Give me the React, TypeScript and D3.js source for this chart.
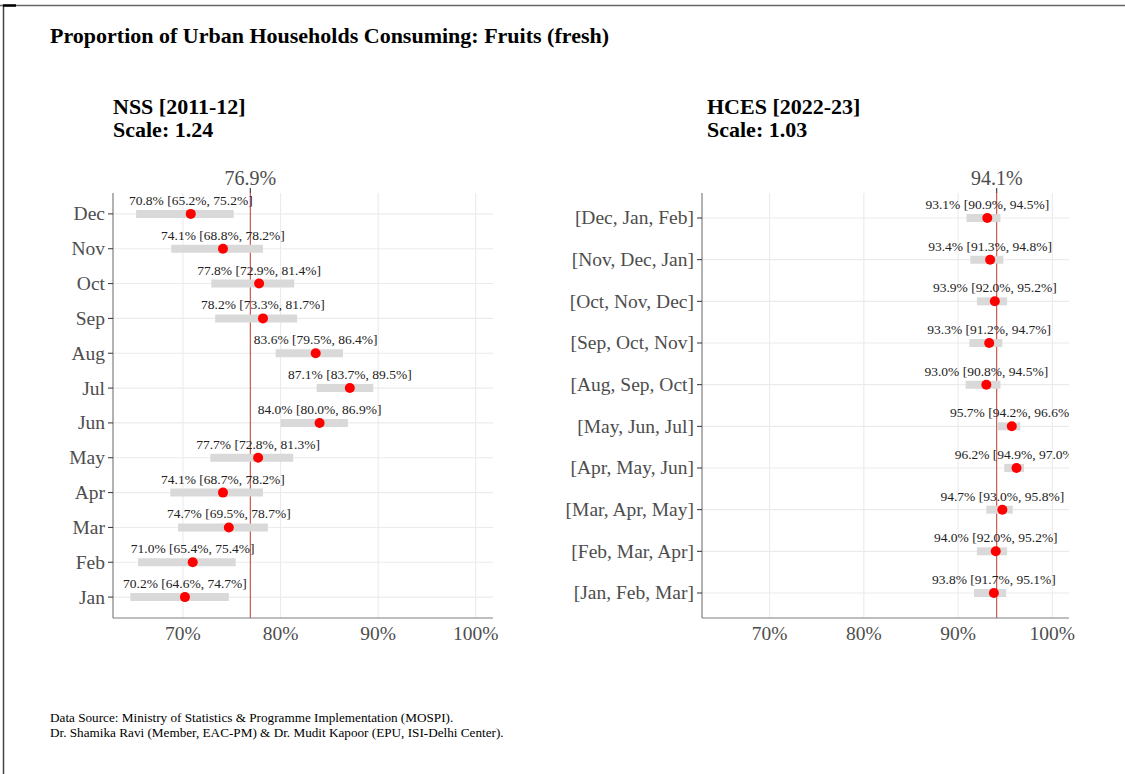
import React from 'react';
import * as d3 from 'd3';

// NSS 2011-12, months top to bottom
const nssMonths = ['Dec', 'Nov', 'Oct', 'Sep', 'Aug', 'Jul', 'Jun', 'May', 'Apr', 'Mar', 'Feb', 'Jan'];
const nssEst = [70.8, 74.1, 77.8, 78.2, 83.6, 87.1, 84.0, 77.7, 74.1, 74.7, 71.0, 70.2];
const nssLow = [65.2, 68.8, 72.9, 73.3, 79.5, 83.7, 80.0, 72.8, 68.7, 69.5, 65.4, 64.6];
const nssHigh = [75.2, 78.2, 81.4, 81.7, 86.4, 89.5, 86.9, 81.3, 78.2, 78.7, 75.4, 74.7];
const nssMean = 76.9;
const nssScale = 1.24;

// HCES 2022-23, rolling quarters
const hcesQuarters = [
  '[Dec, Jan, Feb]', '[Nov, Dec, Jan]', '[Oct, Nov, Dec]', '[Sep, Oct, Nov]', '[Aug, Sep, Oct]',
  '[May, Jun, Jul]', '[Apr, May, Jun]', '[Mar, Apr, May]', '[Feb, Mar, Apr]', '[Jan, Feb, Mar]',
];
const hcesEst = [93.1, 93.4, 93.9, 93.3, 93.0, 95.7, 96.2, 94.7, 94.0, 93.8];
const hcesLow = [90.9, 91.3, 92.0, 91.2, 90.8, 94.2, 94.9, 93.0, 92.0, 91.7];
const hcesHigh = [94.5, 94.8, 95.2, 94.7, 94.5, 96.6, 97.0, 95.8, 95.2, 95.1];
const hcesMean = 94.1;
const hcesScale = 1.03;

const xLimits = [64.6, 100];
const xTicks = [70, 80, 90, 100];

const W = 1125;
const H = 774;
const FONT = '"Liberation Serif", "Times New Roman", serif';
const panelTop = 193;
const panelBottom = 618;

const fmt = (v: number) => `${v.toFixed(1)}%`;

interface PanelProps {
  id: string;
  x0: number;
  x1: number;
  cats: string[];
  est: number[];
  low: number[];
  high: number[];
  mean: number;
  title: string;
  scale: number;
  titleX: number;
}

function Panel(p: PanelProps) {
  const span = xLimits[1] - xLimits[0];
  const x = d3.scaleLinear()
    .domain([xLimits[0] - 0.05 * span, xLimits[1] + 0.05 * span])
    .range([p.x0, p.x1]);
  const y = d3.scalePoint<string>()
    .domain(p.cats)
    .range([panelTop, panelBottom])
    .padding(0.6);

  return (
    <g>
      <defs>
        <clipPath id={`clip-${p.id}`}>
          <rect x={p.x0} y={panelTop} width={p.x1 - p.x0} height={panelBottom - panelTop} />
        </clipPath>
      </defs>
      <text x={p.titleX} y={114} fontFamily={FONT} fontWeight="bold" fontSize={22} fill="#000">{p.title}</text>
      <text x={p.titleX} y={137} fontFamily={FONT} fontWeight="bold" fontSize={22} fill="#000">{`Scale: ${p.scale.toFixed(2)}`}</text>

      {/* grid */}
      {xTicks.map(t => (
        <line key={`gx${t}`} x1={x(t)} x2={x(t)} y1={panelTop} y2={panelBottom} stroke="#ebebeb" strokeWidth={1.1} />
      ))}
      {p.cats.map(c => (
        <line key={`gy${c}`} x1={p.x0} x2={p.x1} y1={y(c)} y2={y(c)} stroke="#ebebeb" strokeWidth={1.1} />
      ))}

      {/* mean line */}
      <line x1={x(p.mean)} x2={x(p.mean)} y1={panelTop} y2={panelBottom} stroke="#c0392b" strokeWidth={1} />
      <line x1={x(p.mean)} x2={x(p.mean)} y1={panelTop - 5} y2={panelTop} stroke="#222" strokeWidth={1} />
      <text x={x(p.mean)} y={185} textAnchor="middle" fontFamily={FONT} fontSize={20} fill="#4d4d4d">{fmt(p.mean)}</text>

      <g clipPath={`url(#clip-${p.id})`}>
        {p.cats.map((c, i) => (
          <g key={`m${c}`}>
            <line x1={x(p.low[i])} x2={x(p.high[i])} y1={y(c)} y2={y(c)} stroke="#d9d9d9" strokeWidth={8} />
            <circle cx={x(p.est[i])} cy={y(c)} r={5} fill="#ff0000" />
            <text x={x(p.est[i])} y={(y(c) as number) - 9} textAnchor="middle" fontFamily={FONT} fontSize={13.5} fill="#222">
              {`${fmt(p.est[i])} [${fmt(p.low[i])}, ${fmt(p.high[i])}]`}
            </text>
          </g>
        ))}
      </g>

      {/* axes */}
      <line x1={p.x0} x2={p.x0} y1={panelTop} y2={panelBottom} stroke="#7f7f7f" strokeWidth={1.2} />
      <line x1={p.x0} x2={p.x1} y1={panelBottom} y2={panelBottom} stroke="#7f7f7f" strokeWidth={1.2} />
      {p.cats.map(c => (
        <g key={`yt${c}`}>
          <line x1={p.x0 - 5} x2={p.x0} y1={y(c)} y2={y(c)} stroke="#333" strokeWidth={1} />
          <text x={p.x0 - 8} y={y(c)} dy="0.33em" textAnchor="end" fontFamily={FONT} fontSize={19.5} fill="#4d4d4d">{c}</text>
        </g>
      ))}
      {xTicks.map(t => (
        <text key={`xt${t}`} x={x(t)} y={640} textAnchor="middle" fontFamily={FONT} fontSize={19.5} fill="#4d4d4d">{`${t}%`}</text>
      ))}
    </g>
  );
}

export default function App() {
  return (
    <svg width={W} height={H} style={{ position: 'absolute', left: 0, top: 0, background: '#fff' }}>
      <rect width={W} height={H} fill="#fff" />
      <line x1={0} x2={W} y1={5.5} y2={5.5} stroke="#666" strokeWidth={1.5} />
      <line x1={3.5} x2={3.5} y1={5} y2={H} stroke="#444" strokeWidth={1.5} />
      <line x1={3} x2={16} y1={5.5} y2={5.5} stroke="#000" strokeWidth={2.5} />

      <text x={50} y={43} fontFamily={FONT} fontWeight="bold" fontSize={22} fill="#000">
        Proportion of Urban Households Consuming: Fruits (fresh)
      </text>

      <Panel id="nss" x0={113} x1={493} cats={nssMonths} est={nssEst} low={nssLow} high={nssHigh}
        mean={nssMean} title="NSS [2011-12]" scale={nssScale} titleX={113} />
      <Panel id="hces" x0={702} x1={1069} cats={hcesQuarters} est={hcesEst} low={hcesLow} high={hcesHigh}
        mean={hcesMean} title="HCES [2022-23]" scale={hcesScale} titleX={707} />

      <text x={50} y={722} fontFamily={FONT} fontSize={13.2} fill="#000">
        Data Source: Ministry of Statistics &amp; Programme Implementation (MOSPI).
      </text>
      <text x={50} y={737} fontFamily={FONT} fontSize={13.2} fill="#000">
        Dr. Shamika Ravi (Member, EAC-PM) &amp; Dr. Mudit Kapoor (EPU, ISI-Delhi Center).
      </text>
    </svg>
  );
}
